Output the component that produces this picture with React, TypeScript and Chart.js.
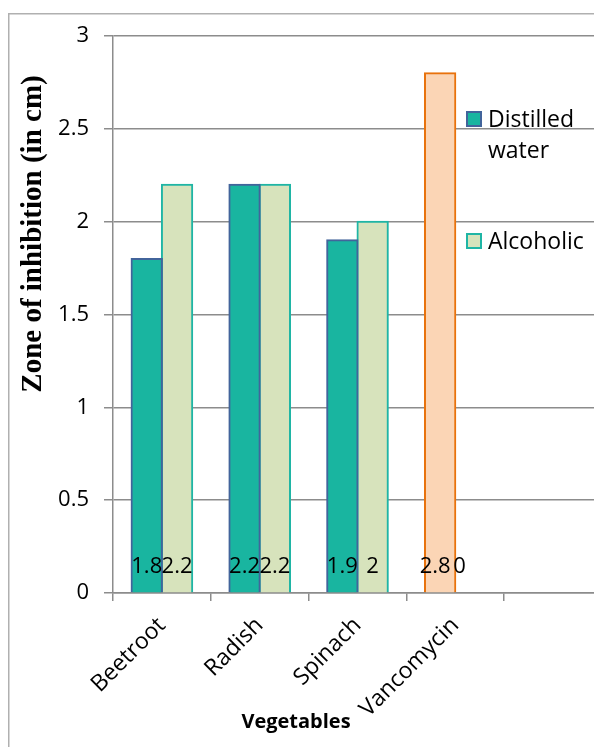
import React, { useEffect, useRef } from "react";
import { Chart, registerables } from "chart.js";

Chart.register(...registerables);

const categories = ["Beetroot", "Radish", "Spinach", "Vancomycin", ""];
const distilledWater = [1.8, 2.2, 1.9, 2.8, null];
const alcoholic = [2.2, 2.2, 2.0, 0, null];
const yTicks = [0, 0.5, 1, 1.5, 2, 2.5, 3];

const W = 594;
const H = 739;
const SANS = "'Open Sans', 'Liberation Sans', sans-serif";
const GRID = "#8c8c8c";

const distFill = ["#19b5a0", "#19b5a0", "#19b5a0", "#fbd5b5", "#19b5a0"];
const distBorder = ["#42649b", "#42649b", "#42649b", "#e8720c", "#42649b"];

const decorPlugin = {
  id: "decor",
  beforeDraw(chart: any) {
    const ctx = chart.ctx;
    ctx.save();
    ctx.strokeStyle = "#b0b0b0";
    ctx.lineWidth = 1.5;
    ctx.strokeRect(0.75, 5.75, W + 20, H + 20);
    ctx.restore();
  },
  afterDatasetsDraw(chart: any) {
    const ctx = chart.ctx;
    const y0 = chart.scales.y.getPixelForValue(0);
    ctx.save();
    ctx.fillStyle = "#000";
    ctx.font = `22px ${SANS}`;
    ctx.textAlign = "center";
    ctx.textBaseline = "alphabetic";
    chart.data.datasets.forEach((ds: any, di: number) => {
      const meta = chart.getDatasetMeta(di);
      ds.data.forEach((v: any, i: number) => {
        if (v === null || v === undefined) return;
        const bar = meta.data[i];
        // when the paired bar is empty, labels crowd to the left (as in the source)
        const crowded = alcoholic[i] === 0;
        const dx = crowded ? (di === 0 ? -5 : -11) : 0;
        ctx.fillText(String(v), bar.x + dx, y0 - 20);
      });
    });
    ctx.restore();
  },
  afterDraw(chart: any) {
    const ctx = chart.ctx;
    ctx.save();
    // x title
    ctx.fillStyle = "#000";
    ctx.font = `bold 20px ${SANS}`;
    ctx.textAlign = "center";
    ctx.textBaseline = "alphabetic";
    ctx.fillText("Vegetables", 288, 720);
    // y title
    ctx.save();
    ctx.translate(33, 226);
    ctx.rotate(-Math.PI / 2);
    ctx.font = "bold 29px 'Liberation Serif', 'Times New Roman', serif";
    ctx.textAlign = "center";
    ctx.textBaseline = "alphabetic";
    ctx.fillText("Zone of inhibition (in cm)", 0, 0);
    ctx.restore();
    // legend
    const items = [
      { lines: ["Distilled", "water"], fill: "#19b5a0", stroke: "#42649b", y: 103 },
      { lines: ["Alcoholic"], fill: "#d7e3bc", stroke: "#1fb5a5", y: 225 },
    ];
    ctx.font = `23px ${SANS}`;
    ctx.textAlign = "left";
    items.forEach((it) => {
      ctx.fillStyle = it.fill;
      ctx.fillRect(459, it.y + 1, 14, 14);
      ctx.strokeStyle = it.stroke;
      ctx.lineWidth = 2;
      ctx.strokeRect(459, it.y + 1, 14, 14);
      ctx.fillStyle = "#000";
      it.lines.forEach((ln, k) => {
        ctx.fillText(ln, 480, it.y + 16 + k * 31);
      });
    });
    ctx.restore();
  },
};

export default function App() {
  const ref = useRef<HTMLCanvasElement | null>(null);
  useEffect(() => {
    if (!ref.current) return;
    const chart = new Chart(ref.current, {
      type: "bar",
      data: {
        labels: categories,
        datasets: [
          {
            label: "Distilled water",
            data: distilledWater,
            backgroundColor: distFill,
            borderColor: distBorder,
            borderWidth: 2,
            inflateAmount: 1,
            categoryPercentage: 0.62,
            barPercentage: 1,
          },
          {
            label: "Alcoholic",
            data: alcoholic,
            backgroundColor: "#d7e3bc",
            borderColor: "#1fb5a5",
            borderWidth: 2,
            inflateAmount: 1,
            categoryPercentage: 0.62,
            barPercentage: 1,
          },
        ],
      },
      options: {
        responsive: false,
        animation: false,
        devicePixelRatio: 1,
        layout: { padding: { top: 27, left: 0, right: 0, bottom: 0 } },
        plugins: {
          legend: { display: false },
          tooltip: { enabled: false },
          title: { display: false },
        },
        scales: {
          x: {
            grid: {
              drawOnChartArea: false,
              drawTicks: true,
              tickLength: 8,
              color: GRID,
              lineWidth: 1.5,
              offset: true,
            },
            border: { display: true, color: GRID, width: 1.5 },
            ticks: {
              color: "#000",
              font: { family: SANS, size: 23 },
              minRotation: 45,
              maxRotation: 45,
              autoSkip: false,
              padding: 11,
            },
            afterFit: (s: any) => {
              s.height = H - 585;
            },
          },
          y: {
            min: 0,
            max: 3,
            afterBuildTicks: (s: any) => {
              s.ticks = yTicks.map((v) => ({ value: v }));
            },
            ticks: {
              color: "#000",
              font: { family: SANS, size: 22 },
              padding: 15,
              callback: (v: any) => String(v),
            },
            grid: {
              color: GRID,
              lineWidth: 1.5,
              tickLength: 9,
              drawTicks: true,
            },
            border: { display: true, color: GRID, width: 1.5 },
            afterFit: (s: any) => {
              s.width = 105;
            },
          },
        },
      },
      plugins: [decorPlugin],
    } as any);
    return () => chart.destroy();
  }, []);
  return (
    <div style={{ width: W, height: H }}>
      <canvas ref={ref} width={W} height={H} style={{ display: "block" }} />
    </div>
  );
}
